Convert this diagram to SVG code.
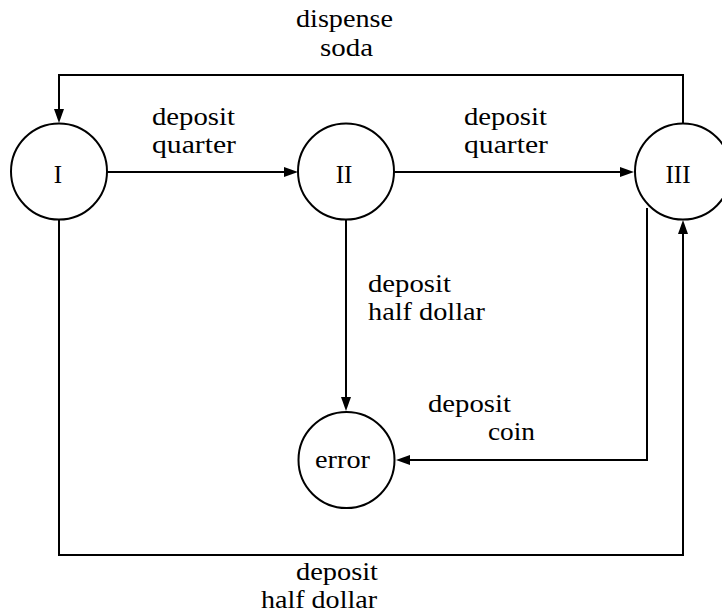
<svg xmlns="http://www.w3.org/2000/svg" width="722" height="616" viewBox="0 0 722 616">
<rect width="722" height="616" fill="#fff"/>
<g id="connectors">
  <g fill="none" stroke="#000" stroke-width="2">
    <path d="M683,124 V75 H59 V110"/>
    <path d="M107,172 H285"/>
    <path d="M394,172 H621"/>
    <path d="M346,220 V398"/>
    <path d="M647,208 V460 H409"/>
    <path d="M59,220 V555 H683 V233"/>
  </g>
  <g fill="#000" stroke="none">
    <path d="M59,123 L54,109 L64,109 Z"/>
    <path d="M298,172 L284,167 L284,177 Z"/>
    <path d="M634,172 L620,167 L620,177 Z"/>
    <path d="M346,411 L341,397 L351,397 Z"/>
    <path d="M396,460 L410,455 L410,465 Z"/>
    <path d="M683,220 L678,234 L688,234 Z"/>
  </g>
</g>
<text font-family="Liberation Serif" font-size="25" x="296" y="27" textLength="97" lengthAdjust="spacingAndGlyphs">dispense</text>
<text font-family="Liberation Serif" font-size="25" x="320" y="56" textLength="53" lengthAdjust="spacingAndGlyphs">soda</text>
<text font-family="Liberation Serif" font-size="25" x="152" y="125" textLength="83" lengthAdjust="spacingAndGlyphs">deposit</text>
<text font-family="Liberation Serif" font-size="25" x="152" y="153" textLength="84" lengthAdjust="spacingAndGlyphs">quarter</text>
<text font-family="Liberation Serif" font-size="25" x="464" y="125" textLength="83" lengthAdjust="spacingAndGlyphs">deposit</text>
<text font-family="Liberation Serif" font-size="25" x="464" y="153" textLength="84" lengthAdjust="spacingAndGlyphs">quarter</text>
<text font-family="Liberation Serif" font-size="25" x="368" y="292" textLength="83" lengthAdjust="spacingAndGlyphs">deposit</text>
<text font-family="Liberation Serif" font-size="25" x="368" y="320" textLength="117" lengthAdjust="spacingAndGlyphs">half dollar</text>
<text font-family="Liberation Serif" font-size="25" x="428" y="412" textLength="83" lengthAdjust="spacingAndGlyphs">deposit</text>
<text font-family="Liberation Serif" font-size="25" x="488" y="440" textLength="47" lengthAdjust="spacingAndGlyphs">coin</text>
<text font-family="Liberation Serif" font-size="25" x="296" y="580" textLength="82" lengthAdjust="spacingAndGlyphs">deposit</text>
<text font-family="Liberation Serif" font-size="25" x="261" y="608" textLength="116" lengthAdjust="spacingAndGlyphs">half dollar</text>
<g id="node-I">
  <circle cx="59" cy="171.5" r="48" fill="#fff" stroke="#000" stroke-width="2"/>
  <text font-family="Liberation Serif" font-size="25" text-anchor="middle" x="58" y="183">I</text>
</g>
<g id="node-II">
  <circle cx="346" cy="171.5" r="48" fill="#fff" stroke="#000" stroke-width="2"/>
  <text font-family="Liberation Serif" font-size="25" text-anchor="middle" x="344" y="183">II</text>
</g>
<g id="node-III">
  <circle cx="683" cy="171.5" r="48" fill="#fff" stroke="#000" stroke-width="2"/>
  <text font-family="Liberation Serif" font-size="25" text-anchor="middle" x="678" y="183">III</text>
</g>
<g id="node-error">
  <circle cx="346.5" cy="460" r="48" fill="#fff" stroke="#000" stroke-width="2"/>
  <text font-family="Liberation Serif" font-size="25" x="315" y="468" textLength="55" lengthAdjust="spacingAndGlyphs">error</text>
</g>
</svg>
